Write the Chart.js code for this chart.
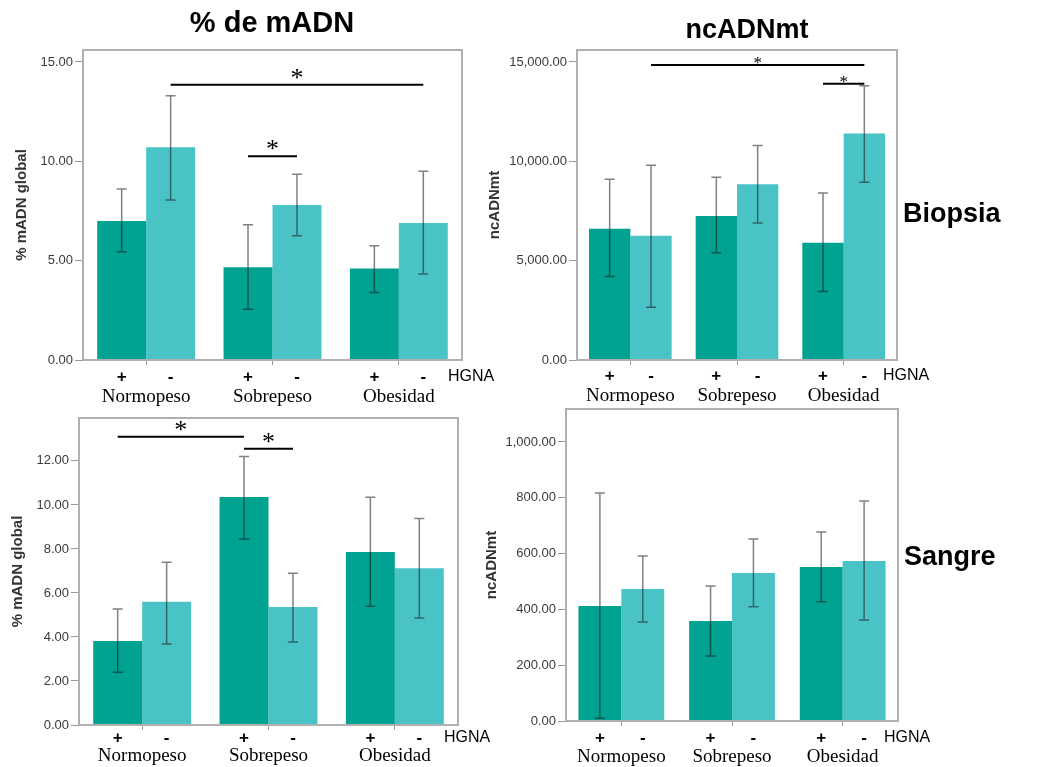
<!DOCTYPE html>
<html>
<head>
<meta charset="utf-8">
<script src="https://cdn.jsdelivr.net/npm/chart.js@4.4.1/dist/chart.umd.min.js"></script>
<style>
  body { margin: 0; background: #fff; }
  #lienzo { position: relative; width: 1049px; height: 767px; overflow: hidden; }
  canvas { position: absolute; }
</style>
</head>
<body>
<div id="lienzo">
  <canvas id="biopsiaMadn" width="500" height="415" style="left:0;top:0"></canvas>
  <canvas id="biopsiaNc" width="569" height="415" style="left:480px;top:0"></canvas>
  <canvas id="sangreMadn" width="500" height="362" style="left:0;top:405px"></canvas>
  <canvas id="sangreNc" width="569" height="368" style="left:480px;top:399px"></canvas>
</div>
<script>
const categorias = ['Normopeso', 'Sobrepeso', 'Obesidad']
const signosHGNA = ['+', '-']

// Biopsia - % mADN global
const biopsiaMadnPos = [7.0, 4.67, 4.6]
const biopsiaMadnNeg = [10.7, 7.8, 6.9]
const biopsiaMadnPosBajo = [5.45, 2.55, 3.4]
const biopsiaMadnPosAlto = [8.6, 6.8, 5.75]
const biopsiaMadnNegBajo = [8.05, 6.25, 4.33]
const biopsiaMadnNegAlto = [13.3, 9.35, 9.5]
const biopsiaMadnTicks = [0, 5, 10, 15]

// Biopsia - ncADNmt
const biopsiaNcPos = [6600, 7250, 5900]
const biopsiaNcNeg = [6250, 8850, 11400]
const biopsiaNcPosBajo = [4200, 5400, 3450]
const biopsiaNcPosAlto = [9100, 9200, 8400]
const biopsiaNcNegBajo = [2650, 6900, 8950]
const biopsiaNcNegAlto = [9800, 10800, 13800]
const biopsiaNcTicks = [0, 5000, 10000, 15000]

// Sangre - % mADN global
const sangreMadnPos = [3.82, 10.36, 7.86]
const sangreMadnNeg = [5.6, 5.36, 7.12]
const sangreMadnPosBajo = [2.4, 8.45, 5.4]
const sangreMadnPosAlto = [5.27, 12.2, 10.35]
const sangreMadnNegBajo = [3.68, 3.77, 4.86]
const sangreMadnNegAlto = [7.4, 6.9, 9.38]
const sangreMadnTicks = [0, 2, 4, 6, 8, 10, 12]

// Sangre - ncADNmt
const sangreNcPos = [412, 358, 552]
const sangreNcNeg = [473, 530, 573]
const sangreNcPosBajo = [10, 233, 427]
const sangreNcPosAlto = [817, 484, 677]
const sangreNcNegBajo = [355, 409, 362]
const sangreNcNegAlto = [591, 652, 788]
const sangreNcTicks = [0, 200, 400, 600, 800, 1000]

// comparaciones significativas: [serie, categoria]
const biopsiaMadnSignif = [
    { desde: [1, 0], hasta: [1, 2], valor: 13.85 },
    { desde: [0, 1], hasta: [1, 1], valor: 10.25 }
]
const biopsiaNcSignif = [
    { desde: [1, 0], hasta: [1, 2], valor: 14850 },
    { desde: [0, 2], hasta: [1, 2], valor: 13900 }
]
const sangreMadnSignif = [
    { desde: [0, 0], hasta: [0, 1], valor: 13.1 },
    { desde: [0, 1], hasta: [1, 1], valor: 12.55 }
]

const OSCURO = '#00a392'
const CLARO = '#4ac3c6'
const SANS = '"Liberation Sans", Arial, sans-serif'
const SERIF = '"Liberation Serif", "Times New Roman", serif'

const formato = (v) => v.toLocaleString('en-US', { minimumFractionDigits: 2, maximumFractionDigits: 2 })

const anotaciones = {
    id: 'anotaciones',
    afterDatasetsDraw(chart, args, op) {
        const ctx = chart.ctx
        const area = chart.chartArea
        const escalaY = chart.scales.y
        ctx.save()

        // barras de error
        ctx.strokeStyle = 'rgba(25,25,25,0.55)'
        ctx.lineWidth = 1.5
        op.errores.forEach((par, i) => {
            chart.getDatasetMeta(i).data.forEach((barra, j) => {
                const bajo = escalaY.getPixelForValue(par[0][j])
                const alto = escalaY.getPixelForValue(par[1][j])
                ctx.beginPath()
                ctx.moveTo(barra.x, bajo)
                ctx.lineTo(barra.x, alto)
                ctx.moveTo(barra.x - 5, bajo)
                ctx.lineTo(barra.x + 5, bajo)
                ctx.moveTo(barra.x - 5, alto)
                ctx.lineTo(barra.x + 5, alto)
                ctx.stroke()
            })
        })

        // marco
        ctx.strokeStyle = '#b0b0b0'
        ctx.lineWidth = 2
        ctx.strokeRect(area.left, area.top, area.right - area.left, area.bottom - area.top)

        // asteriscos
        ctx.strokeStyle = '#000'
        ctx.fillStyle = '#000'
        ctx.lineWidth = 2
        ctx.textAlign = 'center'
        ctx.textBaseline = 'alphabetic'
        ctx.font = op.asterisco + 'px ' + SERIF
        op.signif.forEach((s) => {
            const a = chart.getDatasetMeta(s.desde[0]).data[s.desde[1]]
            const b = chart.getDatasetMeta(s.hasta[0]).data[s.hasta[1]]
            const yy = escalaY.getPixelForValue(s.valor)
            ctx.beginPath()
            ctx.moveTo(a.x, yy)
            ctx.lineTo(b.x, yy)
            ctx.stroke()
            ctx.fillText('*', (a.x + b.x) / 2, yy + op.asteriscoDy)
        })

        // fila + / -
        const filaY = area.bottom + op.filaSignos
        ctx.textBaseline = 'middle'
        ctx.font = 'bold 17px ' + SANS
        signosHGNA.forEach((signo, i) => {
            chart.getDatasetMeta(i).data.forEach((barra) => {
                ctx.fillText(signo, barra.x, filaY)
            })
        })
        ctx.textAlign = 'left'
        ctx.font = '16px ' + SANS
        ctx.fillText('HGNA', area.right - 14, filaY)

        // titulo y etiqueta lateral
        if (op.titulo) {
            ctx.textAlign = 'center'
            ctx.font = 'bold ' + op.titulo.size + 'px ' + SANS
            ctx.fillText(op.titulo.texto, op.titulo.x, op.titulo.y)
        }
        if (op.lateral) {
            ctx.textAlign = 'left'
            ctx.font = 'bold 27px ' + SANS
            ctx.fillText(op.lateral.texto, area.right + 6, op.lateral.y)
        }
        ctx.restore()
    }
}

function crearPanel(id, cfg) {
    const chartDom = document.getElementById(id)
    return new Chart(chartDom, {
        type: 'bar',
        data: {
            labels: categorias,
            datasets: [
                { label: 'HGNA +', data: cfg.pos, backgroundColor: OSCURO },
                { label: 'HGNA -', data: cfg.neg, backgroundColor: CLARO }
            ]
        },
        options: {
            responsive: false,
            animation: false,
            events: [],
            layout: { padding: cfg.padding },
            datasets: { bar: { categoryPercentage: 0.775, barPercentage: 1.0 } },
            plugins: {
                legend: { display: false },
                tooltip: { enabled: false },
                anotaciones: {
                    errores: [[cfg.posBajo, cfg.posAlto], [cfg.negBajo, cfg.negAlto]],
                    signif: cfg.signif || [],
                    asterisco: cfg.asterisco || 26,
                    asteriscoDy: cfg.asteriscoDy || 1,
                    filaSignos: cfg.filaSignos,
                    titulo: cfg.titulo,
                    lateral: cfg.lateral
                }
            },
            scales: {
                x: {
                    border: { display: false },
                    grid: { offset: false, drawOnChartArea: false, tickLength: 5, color: '#999' },
                    ticks: { color: '#000', padding: cfg.padX, font: { family: SERIF, size: 19 } },
                    afterFit: (s) => { s.height = cfg.altoX }
                },
                y: {
                    min: 0,
                    max: cfg.max,
                    border: { display: false },
                    grid: { drawOnChartArea: false, tickLength: 8, color: '#999' },
                    ticks: { color: '#3a3a3a', padding: 2, font: { family: SANS, size: 13 }, callback: (v) => formato(v) },
                    afterBuildTicks: (s) => { s.ticks = cfg.ticks.map((v) => ({ value: v })) },
                    afterFit: (s) => { s.width = cfg.anchoY },
                    title: {
                        display: true,
                        text: cfg.tituloY,
                        color: '#333',
                        padding: { top: cfg.padTituloY, bottom: 0 },
                        font: { family: SANS, size: 15, weight: 'bold' }
                    }
                }
            }
        },
        plugins: [anotaciones]
    })
}

crearPanel('biopsiaMadn', {
    pos: biopsiaMadnPos, neg: biopsiaMadnNeg,
    posBajo: biopsiaMadnPosBajo, posAlto: biopsiaMadnPosAlto,
    negBajo: biopsiaMadnNegBajo, negAlto: biopsiaMadnNegAlto,
    ticks: biopsiaMadnTicks, max: 15.6, signif: biopsiaMadnSignif,
    tituloY: '% mADN global', padTituloY: 13,
    padding: { top: 50, right: 38, left: 0, bottom: 0 },
    anchoY: 83, altoX: 55, padX: 21, filaSignos: 17,
    titulo: { texto: '% de mADN', size: 29, x: 272, y: 24 }
})

crearPanel('biopsiaNc', {
    pos: biopsiaNcPos, neg: biopsiaNcNeg,
    posBajo: biopsiaNcPosBajo, posAlto: biopsiaNcPosAlto,
    negBajo: biopsiaNcNegBajo, negAlto: biopsiaNcNegAlto,
    ticks: biopsiaNcTicks, max: 15600, signif: biopsiaNcSignif,
    asterisco: 17, asteriscoDy: 3,
    tituloY: 'ncADNmt', padTituloY: 6,
    padding: { top: 50, right: 152, left: 0, bottom: 0 },
    anchoY: 97, altoX: 55, padX: 20, filaSignos: 16,
    titulo: { texto: 'ncADNmt', size: 27, x: 267, y: 31 },
    lateral: { texto: 'Biopsia', y: 215 }
})

crearPanel('sangreMadn', {
    pos: sangreMadnPos, neg: sangreMadnNeg,
    posBajo: sangreMadnPosBajo, posAlto: sangreMadnPosAlto,
    negBajo: sangreMadnNegBajo, negAlto: sangreMadnNegAlto,
    ticks: sangreMadnTicks, max: 13.95, signif: sangreMadnSignif,
    tituloY: '% mADN global', padTituloY: 9,
    padding: { top: 13, right: 42, left: 0, bottom: 0 },
    anchoY: 79, altoX: 42, padX: 15, filaSignos: 13
})

crearPanel('sangreNc', {
    pos: sangreNcPos, neg: sangreNcNeg,
    posBajo: sangreNcPosBajo, posAlto: sangreNcPosAlto,
    negBajo: sangreNcNegBajo, negAlto: sangreNcNegAlto,
    ticks: sangreNcTicks, max: 1118,
    tituloY: 'ncADNmt', padTituloY: 3,
    padding: { top: 10, right: 151, left: 0, bottom: 0 },
    anchoY: 86, altoX: 46, padX: 20, filaSignos: 17,
    lateral: { texto: 'Sangre', y: 159 }
})
</script>
</body>
</html>
